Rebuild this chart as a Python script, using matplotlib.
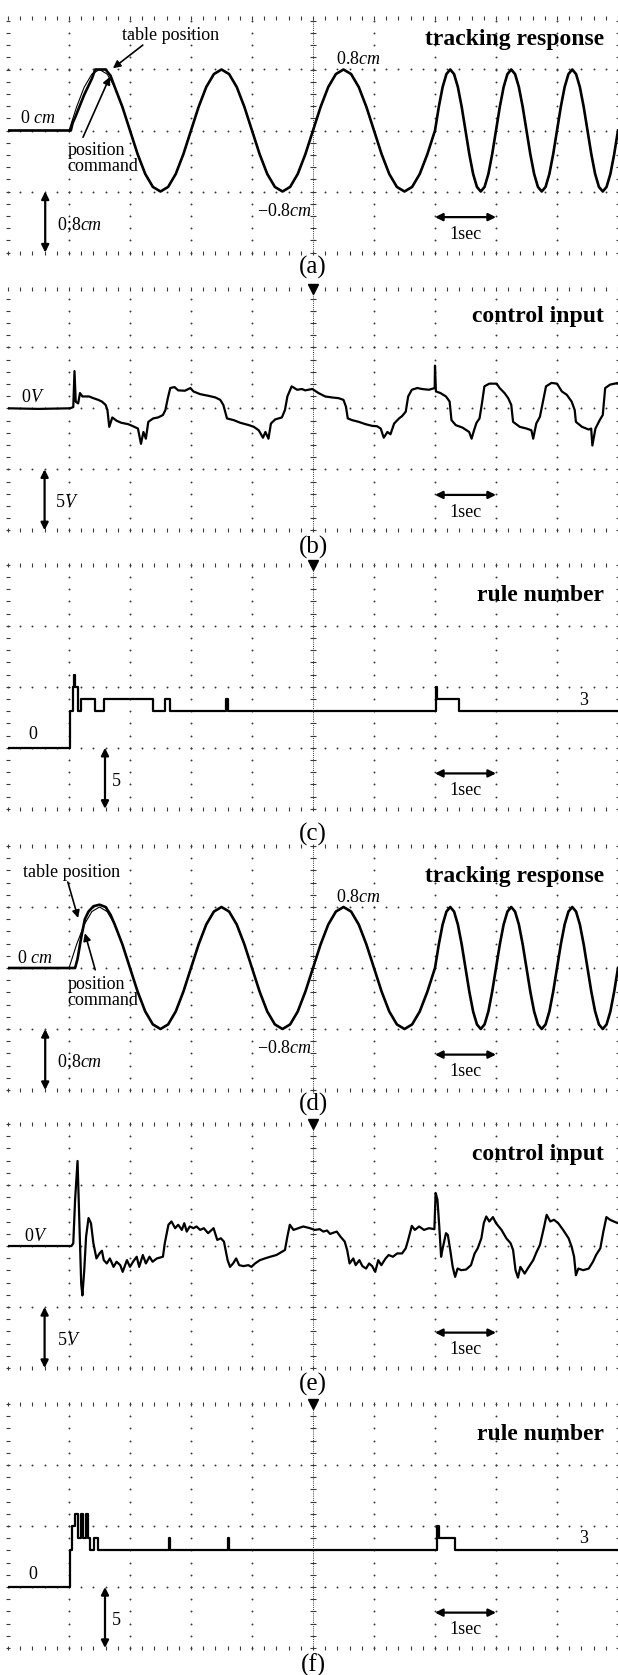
import matplotlib
matplotlib.use("Agg")
import matplotlib.pyplot as plt
import numpy as np

plt.rcParams["font.family"] = ["Liberation Serif", "DejaVu Serif"]
plt.rcParams["mathtext.fontset"] = "custom"
plt.rcParams["mathtext.rm"] = "Liberation Serif"
plt.rcParams["mathtext.it"] = "Liberation Serif:italic"

# time base 1 s/div, 10 s across the screen
# ---- position command (same in (a) and (d)), cm ----
CMD_T = [
    0.0, 1.0, 1.125, 1.25, 1.375, 1.5, 1.625, 1.75, 1.875,
    2.0, 2.125, 2.25, 2.375, 2.5, 2.625, 2.75, 2.875,
    3.0, 3.125, 3.25, 3.375, 3.5, 3.625, 3.75, 3.875,
    4.0, 4.125, 4.25, 4.375, 4.5, 4.625, 4.75, 4.875,
    5.0, 5.125, 5.25, 5.375, 5.5, 5.625, 5.75, 5.875,
    6.0, 6.125, 6.25, 6.375, 6.5, 6.625, 6.75, 6.875,
    7.0, 7.0625, 7.125, 7.1875, 7.25, 7.3125, 7.375, 7.4375,
    7.5, 7.5625, 7.625, 7.6875, 7.75, 7.8125, 7.875, 7.9375,
    8.0, 8.0625, 8.125, 8.1875, 8.25, 8.3125, 8.375, 8.4375,
    8.5, 8.5625, 8.625, 8.6875, 8.75, 8.8125, 8.875, 8.9375,
    9.0, 9.0625, 9.125, 9.1875, 9.25, 9.3125, 9.375, 9.4375,
    9.5, 9.5625, 9.625, 9.6875, 9.75, 9.8125, 9.875, 9.9375, 10.0,
]
CMD_CM = [
    0.0,
    0.0, 0.31, 0.57, 0.74, 0.80, 0.74, 0.57, 0.31,
    0.0, -0.31, -0.57, -0.74, -0.80, -0.74, -0.57, -0.31,
    0.0, 0.31, 0.57, 0.74, 0.80, 0.74, 0.57, 0.31,
    0.0, -0.31, -0.57, -0.74, -0.80, -0.74, -0.57, -0.31,
    0.0, 0.31, 0.57, 0.74, 0.80, 0.74, 0.57, 0.31,
    0.0, -0.31, -0.57, -0.74, -0.80, -0.74, -0.57, -0.31,
    0.0, 0.31, 0.57, 0.74, 0.80, 0.74, 0.57, 0.31,
    0.0, -0.31, -0.57, -0.74, -0.80, -0.74, -0.57, -0.31,
    0.0, 0.31, 0.57, 0.74, 0.80, 0.74, 0.57, 0.31,
    0.0, -0.31, -0.57, -0.74, -0.80, -0.74, -0.57, -0.31,
    0.0, 0.31, 0.57, 0.74, 0.80, 0.74, 0.57, 0.31,
    0.0, -0.31, -0.57, -0.74, -0.80, -0.74, -0.57, -0.31,
    0.0,
]

# table position start-up (after t=1.75 it sits on the command)
POS_A_T = [0.0, 1.03, 1.06, 1.10, 1.25, 1.375, 1.43, 1.60, 1.68]
POS_A_CM = [0.0, 0.0, 0.10, 0.17, 0.47, 0.68, 0.80, 0.80, 0.72]
POS_D_T = [0.0, 1.10, 1.14, 1.20, 1.26, 1.32, 1.40, 1.50, 1.60, 1.68]
POS_D_CM = [0.0, 0.0, 0.12, 0.40, 0.64, 0.74, 0.81, 0.83, 0.80, 0.70]

# ---- control input (b), V ----
U_B_T = [
    0.0, 0.5, 1.02, 1.07, 1.09, 1.11, 1.15, 1.18, 1.22, 1.33, 1.40, 1.48, 1.54,
    1.60, 1.63, 1.66, 1.71, 1.78, 1.86, 1.97, 2.05, 2.13, 2.18, 2.22, 2.26, 2.30,
    2.38, 2.46, 2.54, 2.58, 2.62, 2.66, 2.73, 2.79, 2.90, 2.99, 3.04, 3.15, 3.29,
    3.40, 3.48, 3.53, 3.59, 3.70, 3.81, 3.95, 4.03, 4.11, 4.18, 4.22, 4.27, 4.31,
    4.38, 4.49, 4.54, 4.58, 4.65, 4.74, 4.82, 4.87, 4.99, 5.09, 5.20, 5.31, 5.42,
    5.50, 5.54, 5.57, 5.64, 5.75, 5.86, 5.97, 6.05, 6.11, 6.16, 6.22, 6.27, 6.33,
    6.41, 6.46, 6.52, 6.56, 6.62, 6.71, 6.79, 6.90, 6.995, 7.00, 7.015, 7.09, 7.18,
    7.24, 7.27, 7.34, 7.45, 7.56, 7.60, 7.64, 7.68, 7.73, 7.77, 7.81, 7.89, 8.01,
    8.06, 8.14, 8.20, 8.25, 8.28, 8.39, 8.50, 8.58, 8.61, 8.66, 8.72, 8.77, 8.82,
    8.91, 9.00, 9.08, 9.16, 9.24, 9.29, 9.31, 9.41, 9.52, 9.56, 9.58, 9.63, 9.70,
    9.75, 9.79, 9.87, 10.0,
]
U_B_V = [
    0.0, -0.05, 0.0, 0.10, 3.05, 0.55, 0.40, 1.25, 0.97, 0.97, 0.83, 0.69, 0.55,
    0.28, -0.14, -1.52, -0.75, -1.02, -1.19, -1.30, -1.47, -1.66, -2.91, -1.94, -2.49, -1.11,
    -0.83, -0.75, -0.55, -0.14, 0.83, 1.66, 1.74, 1.47, 1.44, 1.66, 1.38, 1.16, 1.02,
    0.89, 0.69, 0.28, -0.83, -0.97, -1.19, -1.38, -1.52, -1.80, -2.41, -1.94, -2.49, -1.25,
    -0.91, -0.75, -0.14, 0.97, 1.80, 1.52, 1.58, 1.47, 1.58, 1.25, 0.97, 0.89, 0.83,
    0.69, 0.14, -0.83, -0.97, -1.11, -1.30, -1.44, -1.47, -1.66, -2.41, -1.94, -2.13, -1.25,
    -0.83, -0.64, -0.28, 0.97, 1.52, 1.66, 1.58, 1.52, 1.66, 3.50, 1.38, 1.25, 0.97,
    0.55, -0.97, -1.38, -1.58, -1.94, -2.49, -1.80, -1.19, -0.83, 0.42, 1.80, 2.02, 2.02,
    1.66, 1.25, 0.83, 0.28, -1.11, -1.52, -1.66, -1.80, -2.49, -1.25, -0.69, 0.55, 1.80,
    2.08, 2.02, 1.38, 1.11, 0.55, -0.14, -1.11, -1.52, -1.74, -1.66, -3.05, -1.66, -0.97,
    -0.55, 1.66, 1.94, 2.08,
]

# ---- control input (e), V ----
U_E_T = [
    0.0, 1.04, 1.07, 1.10, 1.14, 1.16, 1.18, 1.20, 1.22, 1.25, 1.28, 1.32, 1.36,
    1.40, 1.45, 1.50, 1.54, 1.57, 1.62, 1.67, 1.73, 1.78, 1.84, 1.88, 1.95, 2.00,
    2.05, 2.11, 2.15, 2.21, 2.26, 2.32, 2.37, 2.44, 2.54, 2.57, 2.63, 2.68, 2.74,
    2.79, 2.85, 2.89, 2.93, 2.98, 3.04, 3.09, 3.15, 3.21, 3.28, 3.37, 3.43, 3.49,
    3.54, 3.60, 3.64, 3.69, 3.74, 3.79, 3.86, 3.94, 3.99, 4.05, 4.13, 4.21, 4.30,
    4.40, 4.49, 4.54, 4.58, 4.62, 4.68, 4.76, 4.84, 4.95, 5.03, 5.11, 5.17, 5.23,
    5.28, 5.34, 5.39, 5.45, 5.52, 5.56, 5.60, 5.66, 5.70, 5.76, 5.81, 5.87, 5.92,
    5.97, 6.02, 6.07, 6.12, 6.19, 6.24, 6.31, 6.38, 6.46, 6.52, 6.56, 6.62, 6.67,
    6.74, 6.82, 6.90, 6.99, 7.01, 7.04, 7.07, 7.10, 7.12, 7.18, 7.21, 7.25, 7.29,
    7.33, 7.37, 7.43, 7.51, 7.59, 7.65, 7.70, 7.76, 7.80, 7.84, 7.89, 7.95, 8.00,
    8.09, 8.17, 8.24, 8.28, 8.32, 8.36, 8.40, 8.47, 8.52, 8.61, 8.66, 8.72, 8.79,
    8.83, 8.89, 8.95, 9.02, 9.10, 9.19, 9.24, 9.28, 9.31, 9.35, 9.43, 9.52, 9.59,
    9.64, 9.71, 9.76, 9.81, 9.87, 9.93, 10.0,
]
U_E_V = [
    0.0, 0.0, 0.22, 3.80, 6.97, 3.53, -0.06, -3.09, -4.05, -1.98, 0.77, 2.29, 1.87,
    0.22, -1.02, -0.61, -0.39, -1.16, -1.43, -1.02, -1.71, -1.29, -1.57, -2.12, -1.16, -1.71,
    -1.29, -0.88, -1.71, -0.74, -1.43, -0.88, -1.29, -1.02, -0.88, 0.22, 1.74, 2.01, 1.46,
    1.74, 1.32, 1.87, 1.18, 1.60, 1.46, 1.60, 1.32, 1.46, 1.05, 1.46, 0.50, 0.63,
    0.36, -1.16, -1.71, -1.43, -1.02, -1.57, -1.65, -1.57, -1.71, -1.43, -1.16, -1.02, -0.88,
    -0.74, -0.47, -0.33, 0.77, 1.74, 1.32, 1.46, 1.60, 1.46, 1.32, 1.38, 1.18, 1.27,
    0.99, 1.10, 1.18, 0.77, 0.36, -0.33, -1.43, -1.02, -1.57, -1.16, -1.65, -1.85, -1.43,
    -1.65, -2.12, -1.16, -1.57, -1.02, -0.74, -0.88, -0.61, -0.61, -0.19, 0.50, 1.65, 1.32,
    1.60, 1.32, 1.46, 1.38, 4.35, 3.80, 1.60, -0.88, -0.33, 1.05, 0.91, -0.33, -1.71,
    -2.53, -1.85, -1.98, -1.93, -1.57, -0.61, -0.19, 0.63, 1.87, 2.42, 2.01, 2.37, 1.87,
    1.32, 0.63, 0.22, -0.33, -1.98, -2.59, -1.71, -2.26, -1.85, -1.16, -0.55, 0.08, 1.60,
    2.56, 2.01, 2.15, 1.87, 1.32, 0.63, -0.06, -0.88, -2.40, -1.85, -1.98, -1.85, -1.29,
    -0.74, -0.19, 1.18, 2.37, 2.15, 2.01, 1.87,
]

# ---- fired rule number (c) and (f) ----
RULE_C_T = [0.0, 1.02, 1.06, 1.08, 1.10, 1.15, 1.19, 1.43, 1.58, 2.37, 2.58, 2.65,
            3.57, 3.61, 7.01, 7.03, 7.39, 10.0]
RULE_C = [0, 3, 5, 6, 5, 3, 4, 3, 4, 3, 4, 3, 4, 3, 5, 4, 3, 3]
RULE_F_T = [0.0, 1.02, 1.05, 1.10, 1.15, 1.20, 1.23, 1.28, 1.31, 1.35,
            1.41, 1.47, 2.64, 2.66, 3.61, 3.63, 7.03, 7.06, 7.33, 10.0]
RULE_F = [0, 3, 5, 6, 4, 6, 4, 6, 4, 3, 4, 3, 4, 3, 4, 3, 5, 4, 3, 3]

FIG_W, FIG_H = 618, 1675
DIV = 61.0
GRID = "#3a3a3a"


def make_axes(fig, centre_px, y0, ys):
    h = 4.2 * DIV
    ax = fig.add_axes([8 / FIG_W, 1 - (centre_px + h / 2) / FIG_H, 610 / FIG_W, h / FIG_H])
    ax.set_xlim(0, 10)
    ax.set_ylim(y0 - 2.1 * ys, y0 + 2.1 * ys)
    ax.axis("off")
    return ax


def graticule(ax, y0, ys, top, marker):
    xs = np.arange(0, 10.001, 0.2)
    ds = np.arange(-2, top + 0.001, 0.2)
    yy = y0 + ys * ds
    kw = dict(ls="none", color=GRID, clip_on=False)
    for k in range(1, 10):
        if k != 5:
            ax.plot([k] * len(ds), yy, marker="o", ms=1.4, mew=0, **kw)
    ax.plot([5, 5], [y0 - 2 * ys, y0 + top * ys], color=GRID, lw=0.7,
            ls=(0, (1, 1.2)), clip_on=False)
    ax.plot([5] * len(ds), yy, marker="_", ms=4.5, mew=0.8, **kw)
    for d in (-1, 0, 1):
        ax.plot(xs, [y0 + ys * d] * len(xs), marker="o", ms=1.4, mew=0, **kw)
    for d in (-2, top):
        ax.plot(xs, [y0 + ys * d] * len(xs), marker="|", ms=3.2, mew=0.8, **kw)
    for x in (0, 10):
        ax.plot([x] * len(ds), yy, marker="_", ms=3.2, mew=0.8, **kw)
    if marker:
        ax.plot([5], [y0 + top * ys], marker="v", ms=7, color="black", ls="none",
                clip_on=False)


def scale_marks(ax, y0, ys, x_arrow, label, label_x):
    ax.annotate("", xy=(x_arrow, y0 - 1 * ys), xytext=(x_arrow, y0 - 2 * ys),
                arrowprops=dict(arrowstyle="<|-|>", color="black", lw=1.6,
                                mutation_scale=11, shrinkA=0, shrinkB=0),
                annotation_clip=False)
    ax.text(label_x, y0 - 1.55 * ys, label, fontsize=13, ha="left", va="center")
    ax.annotate("", xy=(7, y0 - 1.42 * ys), xytext=(8, y0 - 1.42 * ys),
                arrowprops=dict(arrowstyle="<|-|>", color="black", lw=1.6,
                                mutation_scale=11, shrinkA=0, shrinkB=0))
    ax.text(7.5, y0 - 1.70 * ys, "1sec", fontsize=13, ha="center", va="center")


def title(ax, y0, ys, text):
    ax.text(9.77, y0 + 1.5 * ys, text, fontsize=17, fontweight="bold",
            ha="right", va="center")


def tracking(ax, pos_t, pos_cm, notes):
    ys = 0.8
    tail = [(t, c) for t, c in zip(CMD_T, CMD_CM) if t >= 1.75]
    t_all = list(pos_t) + [p[0] for p in tail]
    c_all = list(pos_cm) + [p[1] for p in tail]
    ax.plot(t_all, c_all, color="black", lw=1.9, zorder=5)
    ax.plot(CMD_T, CMD_CM, color="black", lw=0.8, zorder=6)
    title(ax, 0, ys, "tracking response")
    ax.text(notes["zero"][0], notes["zero"][1] * ys, "0 $cm$", fontsize=13, va="center")
    ax.text(5.38, 1.16 * ys, "0.8$cm$", fontsize=13, va="center")
    ax.text(4.08, -1.32 * ys, "\u22120.8$cm$", fontsize=13, va="center")
    ax.text(notes["table"][0], notes["table"][1] * ys, "table position",
            fontsize=13, va="center")
    ax.text(0.98, notes["cmd"] * ys, "position\ncommand", fontsize=13,
            va="center", linespacing=0.95)
    for head, tail_pt in notes["arrows"]:
        ax.annotate("", xy=(head[0], head[1] * ys), xytext=(tail_pt[0], tail_pt[1] * ys),
                    arrowprops=dict(arrowstyle="-|>", color="black", lw=1.2,
                                    mutation_scale=11, shrinkA=0, shrinkB=0),
                    zorder=8)
    scale_marks(ax, 0, ys, 0.61, "0;8$cm$", 0.80)


def control(ax, t, v, zero_pos, label_x):
    ys = 5.0
    ax.plot(t, v, color="black", lw=1.6, zorder=5)
    title(ax, 0, ys, "control input")
    ax.text(zero_pos[0], zero_pos[1] * ys, "0$V$", fontsize=13, ha="center", va="center")
    scale_marks(ax, 0, ys, 0.60, "5$V$", label_x)


def rules(ax, t, r, three_div):
    y0, ys = 5.0, 5.0
    ax.plot(t, r, color="black", lw=1.6, drawstyle="steps-post", zorder=5)
    title(ax, y0, ys, "rule number")
    ax.text(0.41, y0 - 0.79 * ys, "0", fontsize=13, ha="center", va="center")
    ax.text(9.43, y0 + three_div * ys, "3", fontsize=13, ha="center", va="center")
    scale_marks(ax, y0, ys, 1.59, "5", 1.70)


def main():
    fig = plt.figure(figsize=(FIG_W / 100, FIG_H / 100), dpi=100)
    fig.patch.set_facecolor("white")

    centres = [130.5, 408.3, 686.8, 968.0, 1246.0, 1526.0]
    tags = ["(a)", "(b)", "(c)", "(d)", "(e)", "(f)"]
    tag_y = [267, 547, 834, 1104, 1384, 1665]

    ax = make_axes(fig, centres[0], 0, 0.8)
    graticule(ax, 0, 0.8, 1.85, False)
    tracking(ax, POS_A_T, POS_A_CM, {
        "zero": (0.20, 0.19), "table": (1.87, 1.56), "cmd": -0.46,
        "arrows": [((1.72, 1.02), (2.21, 1.40)), ((1.67, 0.88), (1.23, -0.11))],
    })

    ax = make_axes(fig, centres[1], 0, 5.0)
    graticule(ax, 0, 5.0, 1.95, True)
    control(ax, U_B_T, U_B_V, (0.41, 0.18), 0.77)

    ax = make_axes(fig, centres[2], 5.0, 5.0)
    graticule(ax, 5.0, 5.0, 2.0, True)
    rules(ax, RULE_C_T, RULE_C, -0.22)

    ax = make_axes(fig, centres[3], 0, 0.8)
    graticule(ax, 0, 0.8, 2.0, False)
    tracking(ax, POS_D_T, POS_D_CM, {
        "zero": (0.15, 0.15), "table": (0.25, 1.56), "cmd": -0.40,
        "arrows": [((1.15, 0.82), (0.98, 1.41)), ((1.26, 0.57), (1.43, -0.03))],
    })

    ax = make_axes(fig, centres[4], 0, 5.0)
    graticule(ax, 0, 5.0, 2.0, True)
    control(ax, U_E_T, U_E_V, (0.46, 0.15), 0.80)

    ax = make_axes(fig, centres[5], 5.0, 5.0)
    graticule(ax, 5.0, 5.0, 2.0, True)
    rules(ax, RULE_F_T, RULE_F, -0.20)

    for tag, y in zip(tags, tag_y):
        fig.text(313 / FIG_W, 1 - y / FIG_H, tag, fontsize=18, ha="center", va="center")

    fig.savefig("out.png", dpi=100)
    plt.close(fig)


if __name__ == "__main__":
    main()
